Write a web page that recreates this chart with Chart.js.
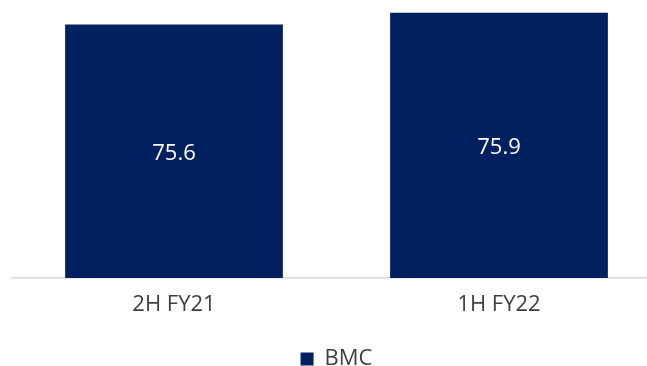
<!DOCTYPE html>
<html>
<head>
<meta charset="utf-8">
<script src="https://cdn.jsdelivr.net/npm/chart.js@4"></script>
<style>
  html, body { margin: 0; padding: 0; background: #fff; overflow: hidden; }
  #wrap { width: 662px; height: 380px; }
</style>
</head>
<body>
<div id="wrap"><canvas id="bmcChart"></canvas></div>
<script>
const navy = "#002060",
  axisGray = "#D9D9D9",
  textGray = "#404040";
const labels = ["2H FY21", "1H FY22"];
const bmc = [75.6, 75.9];

// value labels in the middle of each bar
const barLabels = {
  id: "barLabels",
  afterDraw(chart) {
    const ctx = chart.ctx;
    const xs = chart.scales.x, ys = chart.scales.y;
    ctx.save();
    ctx.font = "22px 'Open Sans', sans-serif";
    ctx.fillStyle = "#FFFFFF";
    ctx.textAlign = "center";
    ctx.textBaseline = "middle";
    bmc.forEach((v, i) => {
      const x = xs.getPixelForValue(i);
      const mid = (ys.getPixelForValue(v) + ys.bottom) / 2;
      ctx.fillText(v.toFixed(1), x, mid + 2);
    });
    ctx.restore();
  },
};

new Chart(document.getElementById("bmcChart"), {
  type: "bar",
  data: {
    labels,
    datasets: [
      {
        label: "BMC",
        data: bmc,
        backgroundColor: navy,
        barPercentage: 0.67,
        categoryPercentage: 1,
      },
    ],
  },
  options: {
    responsive: true,
    maintainAspectRatio: false,
    animation: false,
    layout: { padding: { left: 11.5, right: 0.5, top: 9, bottom: 0 } },
    plugins: {
      tooltip: { enabled: false },
      legend: {
        position: "bottom",
        labels: {
          boxWidth: 13,
          boxHeight: 13,
          padding: 25.5,
          color: textGray,
          font: { family: "'Open Sans', sans-serif", size: 22 },
        },
      },
    },
    scales: {
      x: {
        grid: { display: false },
        border: { display: true, color: axisGray, width: 1.5 },
        ticks: {
          color: textGray,
          padding: 5,
          font: { family: "'Open Sans', sans-serif", size: 22 },
        },
      },
      y: { display: false, min: 69, max: 76 },
    },
  },
  plugins: [barLabels],
});
</script>
</body>
</html>
